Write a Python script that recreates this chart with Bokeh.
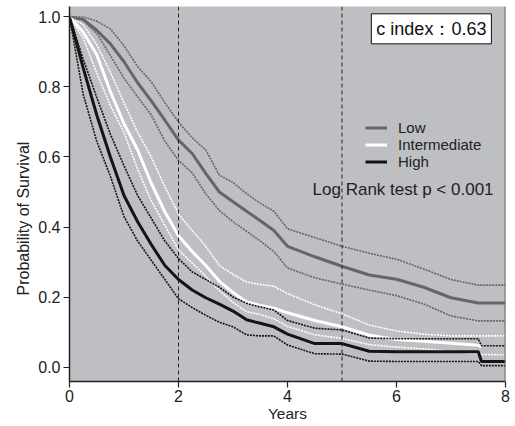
from bokeh.plotting import figure
from bokeh.models import (Range1d, FixedTicker, Span, Label, Legend, LegendItem, Title,
                          NumeralTickFormatter, ColumnDataSource)
from bokeh.embed import file_html
from bokeh.resources import INLINE

nan = float("nan")

# ---- data (years, survival probability) ----
years = [0, 0.25, 0.5, 0.75, 1, 1.25, 1.5, 1.75, 2, 2.25, 2.5, 2.75, 3, 3.25,
         3.5, 3.75, 4, 4.5, 5, 5.5, 6, 6.5, 7, 7.5, 7.56, 8]

low_mid = [1.0, 0.993, 0.962, 0.923, 0.872, 0.812, 0.76, 0.705, 0.648, 0.61, 0.553, 0.50,
           0.472, 0.445, 0.418, 0.39, 0.345, 0.315, 0.288, 0.263, 0.251, 0.228, 0.198,
           0.183, 0.183, 0.183]
low_upper = [1.0, 1.0, 0.988, 0.966, 0.918, 0.858, 0.815, 0.755, 0.70, 0.655, 0.62, 0.548,
             0.527, 0.495, 0.468, 0.445, 0.395, 0.37, 0.345, 0.325, 0.308, 0.28, 0.25,
             0.234, 0.234, 0.234]
low_lower = [1.0, 0.99, 0.953, 0.89, 0.825, 0.772, 0.72, 0.645, 0.59, 0.555, 0.495, 0.447,
             0.415, 0.388, 0.36, 0.33, 0.283, 0.255, 0.237, 0.22, 0.204, 0.18, 0.146,
             0.132, 0.132, 0.132]

int_mid = [1.0, 0.957, 0.892, 0.787, 0.695, 0.62, 0.525, 0.443, 0.375, 0.33, 0.29, 0.245,
           0.213, 0.186, 0.176, 0.168, 0.155, 0.133, 0.115, 0.091, 0.079, 0.074, 0.068,
           0.062, 0.058, nan]
int_upper = [1.0, 0.978, 0.92, 0.842, 0.755, 0.67, 0.60, 0.515, 0.437, 0.39, 0.345, 0.29,
             0.265, 0.243, 0.236, 0.231, 0.21, 0.178, 0.152, 0.12, 0.103, 0.094, 0.089,
             0.089, 0.089, 0.089]
int_lower = [1.0, 0.94, 0.84, 0.747, 0.67, 0.565, 0.475, 0.405, 0.335, 0.297, 0.26, 0.218,
             0.185, 0.158, 0.15, 0.138, 0.116, 0.092, 0.082, 0.064, 0.057, 0.052, 0.045,
             0.038, 0.036, 0.035]

high_mid = [1.0, 0.855, 0.72, 0.60, 0.49, 0.415, 0.35, 0.29, 0.25, 0.22, 0.198, 0.18,
            0.16, 0.135, 0.125, 0.115, 0.094, 0.067, 0.067, 0.045, 0.044, 0.044, 0.044,
            0.044, 0.016, 0.016]
high_upper = [1.0, 0.88, 0.77, 0.665, 0.575, 0.49, 0.425, 0.36, 0.31, 0.272, 0.25, 0.228,
              0.2, 0.182, 0.172, 0.163, 0.133, 0.111, 0.106, 0.083, 0.081, 0.081, 0.081,
              0.081, 0.061, 0.061]
high_lower = [1.0, 0.78, 0.645, 0.545, 0.43, 0.36, 0.305, 0.25, 0.195, 0.17, 0.148, 0.128,
              0.115, 0.092, 0.089, 0.089, 0.063, 0.038, 0.037, 0.017, 0.016, 0.016, 0.016,
              0.016, 0.004, 0.004]

group_names = ["Low", "Intermediate", "High"]
x_ticks = [0, 2, 4, 6, 8]
y_ticks = [0.0, 0.2, 0.4, 0.6, 0.8, 1.0]
landmarks = [2, 5]
x_title = "Years"
y_title = "Probability of Survival"
c_index_text = "c index：0.63"
logrank_text = "Log Rank test p < 0.001"

FONT = "Liberation Sans"

p = figure(width=512, height=424, x_range=Range1d(0, 8), y_range=Range1d(-0.0412, 1.0298),
           output_backend="svg", toolbar_location=None,
           min_border_left=69, min_border_right=7, min_border_top=6, min_border_bottom=41)
p.background_fill_color = "#bebfc3"
p.border_fill_color = "white"
p.outline_line_color = None
p.grid.visible = False

p.xaxis.ticker = FixedTicker(ticks=x_ticks)
p.yaxis.ticker = FixedTicker(ticks=y_ticks)
p.yaxis.formatter = NumeralTickFormatter(format="0.0")
p.xaxis.axis_label = x_title
for ax in (p.xaxis, p.yaxis):
    ax.axis_line_color = "#222222"
    ax.axis_line_width = 1.5
    ax.major_tick_line_color = "#222222"
    ax.major_tick_line_width = 1.2
    ax.major_tick_out = 6
    ax.major_tick_in = 0
    ax.minor_tick_line_color = None
    ax.major_label_text_font = FONT
    ax.major_label_text_font_size = "16px"
    ax.major_label_text_color = "#222222"
    ax.axis_label_text_font = FONT
    ax.axis_label_text_font_size = "15.5px"
    ax.axis_label_text_font_style = "normal"
    ax.axis_label_text_color = "#222222"
p.xaxis.major_label_standoff = 2
p.xaxis.axis_label_standoff = 0
p.yaxis.major_label_standoff = 3

# y title placed like the reference (starting a bit above the frame bottom)
p.add_layout(Title(text=y_title, align="left", offset=86, text_font=FONT,
                   text_font_size="16px", text_font_style="normal", text_color="#222222",
                   standoff=8), "left")

# landmark dashed lines
for lm in landmarks:
    p.add_layout(Span(location=lm, dimension="height", line_color="#222222",
                      line_width=1, line_dash="4 3"))
p.add_layout(Span(location=8, dimension="height", line_color="#6a6a6a", line_width=2))

src = ColumnDataSource(dict(years=years,
                            low_mid=low_mid, low_upper=low_upper, low_lower=low_lower,
                            int_mid=int_mid, int_upper=int_upper, int_lower=int_lower,
                            high_mid=high_mid, high_upper=high_upper, high_lower=high_lower))

styles = [("low", "#666666"), ("int", "#ffffff"), ("high", "#141414")]
mids = []
for key, col in styles:
    for part in ("upper", "lower"):
        p.line("years", f"{key}_{part}", source=src, line_color=col, line_width=1.6,
               line_dash="2 1")
    mids.append(p.line("years", f"{key}_mid", source=src, line_color=col, line_width=3))

legend = Legend(items=[LegendItem(label=n, renderers=[r]) for n, r in zip(group_names, mids)],
                location=(296, 211))
legend.background_fill_alpha = 0
legend.border_line_alpha = 0
legend.padding = 0
legend.margin = 0
legend.spacing = 0
legend.glyph_width = 22
legend.glyph_height = 17
legend.label_height = 17
legend.label_standoff = 11
legend.label_text_font = FONT
legend.label_text_font_size = "15px"
legend.label_text_color = "#222222"
p.add_layout(legend)

p.add_layout(Label(x=4.46, y=0.506, text=logrank_text, text_baseline="middle",
                   text_font=FONT, text_font_size="17px", text_color="#222222"))

# c-index box with shadow
p.add_layout(Label(x=6.64, y=0.966, text=c_index_text, text_align="center",
                   text_baseline="middle", text_font=FONT, text_font_size="18px",
                   text_alpha=0, x_offset=3, y_offset=-3, padding=5,
                   background_fill_color="#6e6e6e", background_fill_alpha=0.8))
p.add_layout(Label(x=6.64, y=0.966, text=c_index_text, text_align="center",
                   text_baseline="middle", text_font=FONT, text_font_size="18px",
                   text_color="#111111", padding=5,
                   background_fill_color="white", border_line_color="#111111",
                   border_line_width=1))

open("out.html", "w").write(file_html(p, INLINE))
